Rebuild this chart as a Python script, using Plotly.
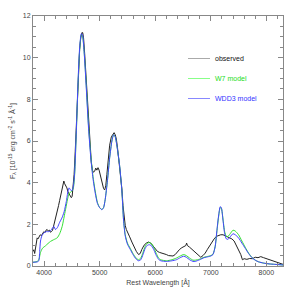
import plotly.graph_objects as go

# ---------------- data ----------------
obs_wave = [3800, 3815, 3830, 3845, 3860, 3875, 3890, 3910, 3930, 3950, 3970, 3995, 4015, 4035,
            4055, 4075, 4095, 4115, 4135, 4150, 4165, 4180, 4200, 4220, 4240, 4260, 4280, 4300,
            4320, 4340, 4355, 4370, 4390, 4410, 4430, 4450, 4470, 4490, 4505, 4520, 4540, 4560,
            4580, 4600, 4620, 4640, 4660, 4680, 4695, 4710, 4730, 4750, 4770, 4790, 4810, 4830,
            4850, 4870, 4890, 4910, 4930, 4950, 4970, 4990, 5010, 5030, 5050, 5070, 5090, 5110,
            5130, 5150, 5180, 5210, 5240, 5260, 5280, 5300, 5320, 5340, 5360, 5380, 5400, 5420,
            5440, 5460, 5480, 5500, 5540, 5580, 5620, 5660, 5700, 5730, 5760, 5800, 5840, 5880,
            5920, 5960, 6000, 6040, 6080, 6120, 6160, 6200, 6240, 6280, 6320, 6360, 6400, 6440,
            6480, 6520, 6550, 6565, 6580, 6620, 6660, 6700, 6740, 6780, 6820, 6860, 6900, 6940,
            6980, 7020, 7060, 7100, 7140, 7180, 7220, 7260, 7300, 7340, 7380, 7420, 7460, 7500,
            7540, 7570, 7600, 7650, 7700, 7750, 7800, 7850, 7900, 7950, 8000, 8050, 8100, 8150,
            8200, 8250, 8300]
obs_flux = [0.7, 0.78, 0.6, 0.95, 1.15, 1.35, 1.3, 1.4, 1.5, 1.45, 1.55, 1.65, 1.6, 1.72,
            1.75, 1.68, 1.72, 1.62, 1.66, 1.7, 1.85, 2.0, 2.25, 2.45, 2.65, 2.9, 3.15, 3.4,
            3.65, 3.9, 4.08, 3.95, 3.85, 3.75, 3.55, 3.45, 3.32, 3.28, 3.35, 3.7, 4.4, 5.5,
            6.8, 8.2, 9.5, 10.4, 10.95, 11.2, 11.2, 10.95, 10.2, 9.3, 8.3, 7.2, 6.3, 5.5,
            4.95, 4.6, 4.5, 4.55, 4.7, 4.6, 4.72, 4.6, 4.4, 4.15, 3.9, 3.72, 3.65, 3.85,
            4.4, 5.1, 5.8, 6.2, 6.35, 6.4, 6.3, 6.1, 5.7, 5.2, 4.8, 4.4, 3.7, 2.9,
            2.3, 1.95, 1.75, 1.6, 1.4, 1.15, 0.9, 0.7, 0.55, 0.6, 0.8, 1.0, 1.1, 1.15,
            1.1, 0.95, 0.8, 0.7, 0.65, 0.62, 0.6, 0.55, 0.5, 0.5, 0.48, 0.55, 0.68, 0.8,
            0.88, 0.95, 0.98, 1.1, 0.98, 0.9, 0.8, 0.7, 0.6, 0.5, 0.42, 0.5, 0.62, 0.8,
            0.98, 1.15, 1.3, 1.42, 1.48, 1.5, 1.5, 1.45, 1.38, 1.32, 1.3, 1.2, 1.0, 0.8,
            0.55, 0.3, 0.35, 0.32, 0.36, 0.35, 0.42, 0.4, 0.45, 0.4, 0.35, 0.3, 0.28, 0.22,
            0.17, 0.12, 0.08]

wdd3_wave = [3800, 3880, 3905, 3920, 3935, 3960, 4000, 4040, 4080, 4120, 4150, 4175, 4205, 4240,
             4280, 4320, 4360, 4400, 4430, 4450, 4475, 4505, 4530, 4550, 4580, 4610, 4640, 4670,
             4690, 4720, 4760, 4800, 4840, 4880, 4920, 4960, 5000, 5040, 5070, 5100, 5140, 5180,
             5220, 5250, 5280, 5320, 5360, 5400, 5430, 5460, 5500, 5550, 5600, 5650, 5700, 5740,
             5780, 5820, 5860, 5900, 5940, 5980, 6020, 6060, 6100, 6200, 6300, 6380, 6450, 6510,
             6560, 6620, 6680, 6720, 6800, 6880, 6960, 7000, 7040, 7080, 7110, 7140, 7170, 7190,
             7220, 7250, 7280, 7310, 7350, 7400, 7440, 7500, 7560, 7620, 7680, 7740, 7800, 7860,
             7950, 8050, 8150, 8300]
wdd3_flux = [0.18, 0.2, 0.25, 0.7, 1.2, 1.45, 1.6, 1.65, 1.65, 1.7, 1.82, 1.9, 1.75, 1.85,
             2.1, 2.3, 2.6, 3.1, 3.6, 3.75, 3.65, 3.62, 3.9, 4.5, 6.5, 8.8, 10.5, 11.15,
             11.1, 10.3, 8.5, 6.6, 5.2, 4.2, 3.5, 3.0, 2.8, 2.7, 2.8, 3.2, 4.1, 5.2,
             6.0, 6.3, 6.2, 5.6, 4.8, 3.6, 2.2, 1.45, 1.05, 0.8, 0.55, 0.35, 0.25, 0.3,
             0.55, 0.85, 1.0, 1.02, 0.95, 0.75, 0.5, 0.32, 0.25, 0.22, 0.25, 0.3, 0.4, 0.47,
             0.42, 0.3, 0.22, 0.22, 0.3, 0.4, 0.45, 0.48, 0.55, 0.95, 1.7, 2.4, 2.85, 2.8,
             2.2, 1.55, 1.3, 1.28, 1.4, 1.55, 1.5, 1.35, 1.1, 0.85, 0.6, 0.4, 0.28, 0.2,
             0.14, 0.1, 0.08, 0.05]

w7_wave = [3800, 3880, 3910, 3935, 3970, 4025, 4070, 4115, 4170, 4235, 4280, 4325, 4385, 4445,
           4475, 4505, 4530, 4550, 4580, 4610, 4640, 4670, 4690, 4720, 4760, 4800, 4840, 4880,
           4920, 4960, 5000, 5040, 5070, 5100, 5140, 5180, 5220, 5250, 5280, 5320, 5360, 5400,
           5430, 5460, 5500, 5550, 5600, 5650, 5700, 5740, 5780, 5820, 5860, 5900, 5940, 5980,
           6020, 6060, 6100, 6200, 6300, 6380, 6450, 6510, 6560, 6620, 6680, 6720, 6800, 6880,
           6960, 7000, 7040, 7080, 7110, 7140, 7170, 7190, 7220, 7250, 7280, 7310, 7350, 7400,
           7440, 7500, 7560, 7620, 7680, 7740, 7800, 7860, 7950, 8050, 8150, 8300]
w7_flux = [0.18, 0.22, 0.35, 0.65, 0.85, 0.97, 1.08, 1.18, 1.26, 1.35, 1.55, 1.9, 2.7, 3.45,
           3.55, 3.6, 3.8, 4.4, 6.4, 8.7, 10.4, 11.1, 11.05, 10.3, 8.6, 6.7, 5.3, 4.3,
           3.6, 3.05, 2.8, 2.72, 2.8, 3.2, 4.1, 5.2, 6.0, 6.3, 6.2, 5.6, 4.8, 3.6,
           2.2, 1.5, 1.1, 0.85, 0.6, 0.4, 0.3, 0.38, 0.65, 0.95, 1.1, 1.12, 1.05, 0.85,
           0.6, 0.38, 0.3, 0.25, 0.3, 0.38, 0.48, 0.55, 0.5, 0.38, 0.28, 0.28, 0.33, 0.42,
           0.47, 0.5, 0.57, 0.95, 1.65, 2.35, 2.8, 2.78, 2.25, 1.65, 1.42, 1.42, 1.55, 1.72,
           1.68, 1.5, 1.2, 0.9, 0.62, 0.42, 0.28, 0.2, 0.14, 0.1, 0.08, 0.05]

legend_names = ["observed", "W7 model", "WDD3 model"]
legend_text_colors = ["#111111", "#22dd22", "#3333ff"]
legend_line_colors = ["#aaaaaa", "#88ff88", "#8888ff"]

x_ticks = [4000, 5000, 6000, 7000, 8000]
y_ticks = [0, 2, 4, 6, 8, 10, 12]

# ---------------- figure ----------------
fig = go.Figure()
fig.add_trace(go.Scatter(x=obs_wave, y=obs_flux, mode="lines",
                         line=dict(color="#222222", width=1), name=legend_names[0]))
fig.add_trace(go.Scatter(x=w7_wave, y=w7_flux, mode="lines",
                         line=dict(color="#33e033", width=1, shape="spline", smoothing=0.6),
                         name=legend_names[1]))
fig.add_trace(go.Scatter(x=wdd3_wave, y=wdd3_flux, mode="lines",
                         line=dict(color="#4444ff", width=1, shape="spline", smoothing=0.6),
                         name=legend_names[2]))

# manual legend
leg_y = [0.83, 0.75, 0.67]
for name, tc, lc, yy in zip(legend_names, legend_text_colors, legend_line_colors, leg_y):
    fig.add_shape(type="line", xref="paper", yref="paper", x0=0.62, x1=0.708, y0=yy, y1=yy,
                  line=dict(color=lc, width=1))
    fig.add_annotation(xref="paper", yref="paper", x=0.72, y=yy, text=name, showarrow=False,
                       xanchor="left", yanchor="middle", font=dict(size=7, color=tc))

axis_common = dict(showline=True, linecolor="#888888", linewidth=1, mirror="allticks",
                   ticks="inside", ticklen=5, tickcolor="#888888", showgrid=False,
                   zeroline=False, tickfont=dict(size=7, color="#444444"), automargin=False)

fig.update_xaxes(range=[3800, 8300], tickvals=x_ticks, ticktext=[str(v) for v in x_ticks],
                 minor=dict(dtick=200, tick0=3800, ticks="inside", ticklen=3, tickcolor="#888888"),
                 title=dict(text="Rest Wavelength [Å]", font=dict(size=7, color="#444444"),
                            standoff=4),
                 **axis_common)
fig.update_yaxes(range=[0, 12], tickvals=y_ticks, ticktext=[str(v) for v in y_ticks],
                 minor=dict(dtick=0.5, tick0=0, ticks="inside", ticklen=3, tickcolor="#888888"),
                 title=dict(text="F<sub>λ</sub> [10<sup>-15</sup> erg cm<sup>-2</sup> s<sup>-1</sup> Å<sup>-1</sup>]",
                            font=dict(size=7, color="#444444"), standoff=6),
                 **axis_common)

fig.update_layout(width=299, height=299, margin=dict(l=33, r=16, t=16, b=33),
                  plot_bgcolor="white", paper_bgcolor="white", showlegend=False,
                  font=dict(family="Liberation Sans, Arial, sans-serif"))

fig.write_html("out.html", config={"displayModeBar": False},
               post_script="document.body.style.margin='0px';")
